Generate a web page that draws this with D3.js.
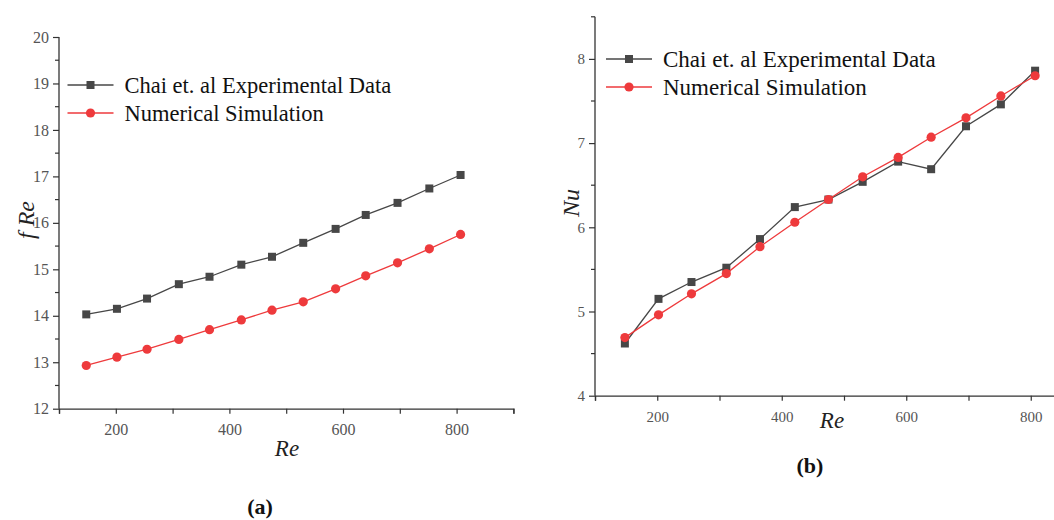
<!DOCTYPE html>
<html>
<head>
<meta charset="utf-8">
<script src="https://cdn.jsdelivr.net/npm/d3@7/dist/d3.min.js"></script>
<style>
  html, body { margin: 0; padding: 0; background: #fff; }
  svg { display: block; }
</style>
</head>
<body>
<svg id="fig" width="1054" height="520"></svg>
<script>
// Reynolds numbers shared by both panels
const reynolds = [148, 202, 255, 311, 365, 421, 475, 530, 587, 640, 696, 752, 807];

// Panel (a): friction factor times Re
const fReExperimental = [14.03, 14.15, 14.37, 14.68, 14.84, 15.10, 15.27, 15.57, 15.87, 16.17, 16.43, 16.74, 17.03];
const fReSimulation   = [12.93, 13.11, 13.28, 13.49, 13.70, 13.91, 14.12, 14.30, 14.58, 14.86, 15.14, 15.44, 15.75];

// Panel (b): Nusselt number
const nuExperimental = [4.62, 5.15, 5.35, 5.52, 5.86, 6.24, 6.33, 6.54, 6.78, 6.69, 7.20, 7.46, 7.86];
const nuSimulation   = [4.69, 4.96, 5.21, 5.45, 5.77, 6.06, 6.33, 6.60, 6.83, 7.07, 7.30, 7.56, 7.80];

const seriesNames = ["Chai et. al Experimental Data", "Numerical Simulation"];
const xTicks = [100, 200, 300, 400, 500, 600, 700, 800, 900];
const xTickLabels = [200, 400, 600, 800];

const colExp = "#474747";
const colSim = "#ee3a3c";
const serif = "'Liberation Serif', 'Times New Roman', serif";

const svg = d3.select("#fig");

function panel(cfg) {
  const g = svg.append("g");
  const x = d3.scaleLinear().domain([100, 900]).range([cfg.x0, cfg.x1]);
  const y = d3.scaleLinear().domain(cfg.yDomain).range([cfg.y0, cfg.y1]);

  // x axis: ticks every 100, labels on the even hundreds
  const xAxis = d3.axisBottom(x).tickValues(xTicks).tickSize(5)
    .tickFormat(d => xTickLabels.includes(d) ? d : "");
  const gx = g.append("g").attr("transform", `translate(0,${cfg.y0})`).call(xAxis);
  gx.select(".domain").attr("stroke", "#333").attr("stroke-width", 1.3);
  gx.selectAll(".tick line").attr("stroke", "#333").attr("stroke-width", 1.2);
  gx.selectAll(".tick text").attr("font-family", serif).attr("font-size", cfg.tickFont)
    .attr("fill", "#555").attr("y", 0).attr("dy", 26.5);

  // y axis: major ticks on integers, minor on halves
  const majors = d3.range(cfg.yDomain[0], cfg.yDomain[1] + 0.001, 1);
  const minors = d3.range(cfg.yDomain[0] + 0.5, cfg.yDomain[1] + 0.001, 1);
  const yAxis = d3.axisLeft(y).tickValues(majors).tickSize(6).tickFormat(d3.format("d"));
  const gy = g.append("g").attr("transform", `translate(${cfg.x0},0)`).call(yAxis);
  gy.select(".domain").attr("stroke", "#333").attr("stroke-width", 1.3)
    .attr("d", `M0,${cfg.y0}V${cfg.y1}`);
  gy.selectAll(".tick line").attr("stroke", "#333").attr("stroke-width", 1.2);
  gy.selectAll(".tick text").attr("font-family", serif).attr("font-size", cfg.tickFont)
    .attr("fill", "#555").attr("x", -10);
  g.append("g").selectAll("line").data(minors).join("line")
    .attr("x1", cfg.x0 - 4).attr("x2", cfg.x0)
    .attr("y1", d => y(d)).attr("y2", d => y(d))
    .attr("stroke", "#333").attr("stroke-width", 1.2);

  const line = d3.line().x(d => x(d[0])).y(d => y(d[1]));
  const expPts = reynolds.map((r, i) => [r, cfg.exp[i]]);
  const simPts = reynolds.map((r, i) => [r, cfg.sim[i]]);

  g.append("path").datum(expPts).attr("d", line)
    .attr("fill", "none").attr("stroke", colExp).attr("stroke-width", 1.3);
  g.append("g").selectAll("rect").data(expPts).join("rect")
    .attr("x", d => x(d[0]) - 4).attr("y", d => y(d[1]) - 4)
    .attr("width", 8).attr("height", 8).attr("fill", colExp);

  g.append("path").datum(simPts).attr("d", line)
    .attr("fill", "none").attr("stroke", colSim).attr("stroke-width", 1.3);
  g.append("g").selectAll("circle").data(simPts).join("circle")
    .attr("cx", d => x(d[0])).attr("cy", d => y(d[1])).attr("r", 4.6)
    .attr("fill", colSim);

  // legend
  const lg = g.append("g");
  seriesNames.forEach((name, i) => {
    const ly = cfg.legY + i * 28;
    const c = i === 0 ? colExp : colSim;
    lg.append("line").attr("x1", cfg.legX).attr("x2", cfg.legX + 46)
      .attr("y1", ly).attr("y2", ly).attr("stroke", c).attr("stroke-width", 1.3);
    if (i === 0) {
      lg.append("rect").attr("x", cfg.legX + 23 - 4).attr("y", ly - 4)
        .attr("width", 8).attr("height", 8).attr("fill", c);
    } else {
      lg.append("circle").attr("cx", cfg.legX + 23).attr("cy", ly).attr("r", 4.6).attr("fill", c);
    }
    lg.append("text").attr("x", cfg.legX + 57).attr("y", ly + 7.5)
      .attr("font-family", serif).attr("font-size", cfg.legFont).attr("fill", "#111")
      .text(name);
  });

  // axis titles
  g.append("text").attr("x", cfg.xTitleX).attr("y", cfg.xTitleY)
    .attr("text-anchor", "middle").attr("font-family", serif).attr("font-style", "italic")
    .attr("font-size", 23).attr("fill", "#222").text("Re");
  g.append("text").attr("transform", `translate(${cfg.yTitleX},${cfg.yTitleY}) rotate(-90)`)
    .attr("text-anchor", "middle").attr("font-family", serif).attr("font-style", "italic")
    .attr("font-size", 24).attr("fill", "#222").text(cfg.yTitle);

  // panel tag
  g.append("text").attr("x", cfg.tagX).attr("y", cfg.tagY).attr("text-anchor", "middle")
    .attr("font-family", serif).attr("font-weight", "bold").attr("font-size", 22)
    .attr("fill", "#111").text(cfg.tag);
}

panel({
  x0: 59, x1: 513.4, y0: 408.7, y1: 37, yDomain: [12, 20], tickFont: 16,
  exp: fReExperimental, sim: fReSimulation,
  legX: 67.5, legY: 85, legFont: 22.5,
  xTitleX: 287, xTitleY: 456, yTitleX: 34, yTitleY: 220, yTitle: "f Re",
  tagX: 260, tagY: 514, tag: "(a)"
});

panel({
  x0: 595, x1: 1093, y0: 395.7, y1: 16.8, yDomain: [4, 8.5], tickFont: 15,
  exp: nuExperimental, sim: nuSimulation,
  legX: 606, legY: 59, legFont: 23,
  xTitleX: 832, xTitleY: 428, yTitleX: 579, yTitleY: 203, yTitle: "Nu",
  tagX: 810, tagY: 473, tag: "(b)"
});
</script>
</body>
</html>
